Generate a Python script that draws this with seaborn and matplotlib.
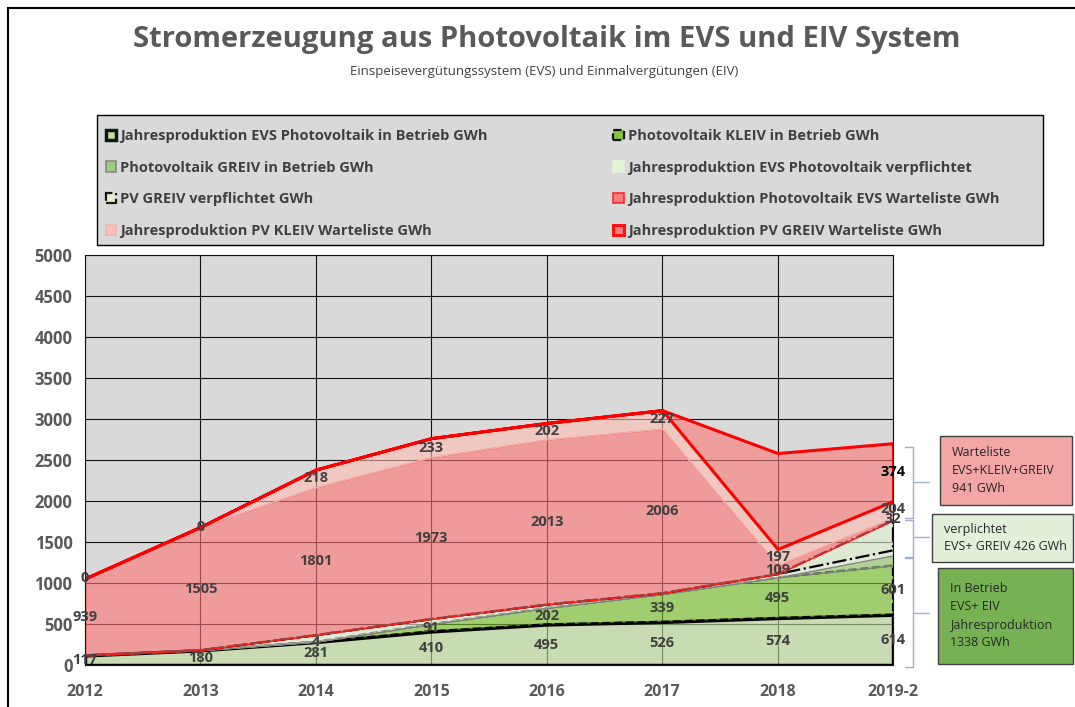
import numpy as np
import seaborn as sns
import matplotlib.pyplot as plt
from matplotlib.patches import Patch, Rectangle
from matplotlib.lines import Line2D

years = ['2012', '2013', '2014', '2015', '2016', '2017', '2018', '2019-2']

# GWh per layer, bottom to top
evs_betrieb = [117, 180, 281, 410, 495, 526, 574, 614]
kleiv_betrieb = [0, 0, 4, 91, 202, 339, 495, 601]
greiv_betrieb = [0, 0, 0, 0, 0, 0, 0, 123]
evs_verpfl = [0, 0, 80, 60, 40, 10, 40, 60]
greiv_verpfl = [0, 0, 0, 0, 0, 0, 0, 366]
evs_warte = [939, 1505, 1801, 1973, 2013, 2006, 109, 32]
kleiv_warte = [0, 0, 218, 233, 202, 227, 197, 204]
greiv_warte = [0, 0, 0, 0, 0, 0, 1170, 705]

# labels as printed on the chart
lab_evs_betrieb = [str(v) for v in evs_betrieb]
lab_kleiv_betrieb = ['', '', '4', '91', '202', '339', '495', '601']
lab_evs_warte = [str(v) for v in evs_warte]
lab_kleiv_warte = [str(v) for v in kleiv_warte]
lab_greiv_warte = ['', '', '', '', '', '', '', '374']

names = [
    'Jahresproduktion EVS Photovoltaik in Betrieb GWh',
    'Photovoltaik KLEIV in Betrieb GWh',
    'Photovoltaik GREIV in Betrieb GWh',
    'Jahresproduktion EVS Photovoltaik verpflichtet',
    'PV GREIV verpflichtet GWh',
    'Jahresproduktion Photovoltaik EVS Warteliste GWh',
    'Jahresproduktion PV KLEIV Warteliste GWh',
    'Jahresproduktion PV GREIV Warteliste GWh',
]

sns.set_style('white')
plt.rcParams['font.family'] = ['Open Sans', 'DejaVu Sans']

fig = plt.figure(figsize=(10.75, 7.07), dpi=100)
ax = fig.add_axes([85 / 1075, 1 - 665 / 707, (893 - 85) / 1075, 410 / 707])
ax.set_facecolor('#d9d9d9')

x = np.arange(len(years))
series = [evs_betrieb, kleiv_betrieb, greiv_betrieb, evs_verpfl,
          greiv_verpfl, evs_warte, kleiv_warte, greiv_warte]
fills = [(189/255, 222/255, 155/255), (122/255, 197/255, 39/255), (150/255, 205/255, 110/255),
         (230/255, 247/255, 214/255), (225/255, 245/255, 205/255), (1.0, 114/255, 114/255),
         (1.0, 189/255, 180/255), (1.0, 120/255, 120/255)]
edges = ['black', 'black', '#808080', 'none', 'black', '#ff1a1a', '#f4b0b0', '#ff0000']
widths = [2.5, 1.6, 1.0, 0, 1.6, 1.0, 1.0, 2.2]
styles = ['-', '--', '-', '-', '-.', '-', '-', '-']

polys = ax.stackplot(x, *series, colors=[f + (0.6,) for f in fills])
for p, ec, lw, ls in zip(polys, edges, widths, styles):
    p.set_edgecolor(ec)
    p.set_linewidth(lw)
    p.set_linestyle(ls)

# data labels at the middle of each segment
tops = np.cumsum(series, axis=0)
cum = np.vstack([np.zeros(len(x)), tops])
label_sets = {0: lab_evs_betrieb, 1: lab_kleiv_betrieb, 5: lab_evs_warte,
              6: lab_kleiv_warte, 7: lab_greiv_warte}
for k, labs in label_sets.items():
    for i, t in enumerate(labs):
        if t == '':
            continue
        yc = (cum[k][i] + cum[k + 1][i]) / 2
        col = 'black' if k == 7 else '#404040'
        ax.text(x[i], yc, t, ha='center', va='center', fontsize=10.5,
                fontweight='bold', color=col, clip_on=False, zorder=10)

ax.set_xlim(0, len(years) - 1)
ax.set_ylim(0, 5000)
ax.set_yticks(range(0, 5001, 500))
ax.set_xticks(x)
ax.set_xticklabels(years)
ax.grid(True, color='#111111', linewidth=0.8)
ax.set_axisbelow(True)
ax.tick_params(axis='x', length=0, labelsize=11.5, labelcolor='#595959', pad=14)
ax.tick_params(axis='y', length=0, labelsize=12, labelcolor='#595959', pad=9)
for lbl in ax.get_xticklabels() + ax.get_yticklabels():
    lbl.set_fontweight('bold')
for s in ax.spines.values():
    s.set_color('#111111')
    s.set_linewidth(0.8)

# legend box, filled row by row
fig.patches.append(Rectangle((97 / 1075, 1 - 245 / 707), 946 / 1075, 130 / 707,
                             transform=fig.transFigure, facecolor='#d9d9d9',
                             edgecolor='black', linewidth=1.0))
handles = [Patch(facecolor=f, edgecolor=(e if e != 'none' else f), linewidth=max(w, 1.2),
                 linestyle=ls, alpha=0.9)
           for f, e, w, ls in zip(fills, edges, widths, styles)]
order = [0, 2, 4, 6, 1, 3, 5, 7]
leg = fig.legend([handles[i] for i in order], [names[i] for i in order], ncol=2,
                 loc='upper left', bbox_to_anchor=(100 / 1075, 1 - 123 / 707),
                 borderaxespad=0, frameon=False, handlelength=0.7,
                 handleheight=0.7, handletextpad=0.3, labelspacing=1.22,
                 columnspacing=8.6, prop={'weight': 'bold', 'size': 10.5})
for t in leg.get_texts():
    t.set_color('#404040')

# titles
fig.text(0.509, 1 - 40 / 707, 'Stromerzeugung aus Photovoltaik im EVS und EIV System',
         ha='center', va='center', fontsize=21, fontweight='bold', color='#595959')
fig.text(0.506, 1 - 72 / 707, 'Einspeisevergütungssystem (EVS) und Einmalvergütungen (EIV)',
         ha='center', va='center', fontsize=9.5, color='#404040')

# outer frame
fig.patches.append(Rectangle((8 / 1075, -0.05), 1.1, 1 - 8 / 707 + 0.05, transform=fig.transFigure,
                             fill=False, edgecolor='black', linewidth=1.5))

# side boxes
def side_box(x0, y0, x1, y1, fc, text):
    fig.patches.append(Rectangle((x0 / 1075, 1 - y1 / 707), (x1 - x0) / 1075, (y1 - y0) / 707,
                                 transform=fig.transFigure, facecolor=fc, edgecolor='#404040',
                                 linewidth=1.0))
    fig.text((x0 + 12) / 1075, 1 - (y0 + y1) / 2 / 707, text, ha='left', va='center',
             fontsize=9, color='#262626', linespacing=1.5)

side_box(940, 436, 1072, 505, '#f2a6a6', 'Warteliste\nEVS+KLEIV+GREIV\n941 GWh')
side_box(932, 514, 1073, 562, '#e2efd9', 'verplichtet\nEVS+ GREIV 426 GWh')
side_box(938, 568, 1073, 664, '#76b253', 'In Betrieb\nEVS+ EIV\nJahresproduktion\n1338 GWh')

# braces
def brace(y0, y1, ym, xv=913):
    c = '#9fb0c8'
    pts = [((xv - 8, y0), (xv, y0)), ((xv, y0), (xv, y1)), ((xv - 8, y1), (xv, y1)),
           ((xv, ym), (xv + 16, ym))]
    for (a, b), (c2, d) in pts:
        fig.lines.append(Line2D([a / 1075, c2 / 1075], [1 - b / 707, 1 - d / 707],
                                transform=fig.transFigure, color=c, linewidth=1.0))

brace(447, 518, 482)
brace(520, 557, 537)
brace(558, 667, 613)

fig.savefig('out.png', dpi=100)
